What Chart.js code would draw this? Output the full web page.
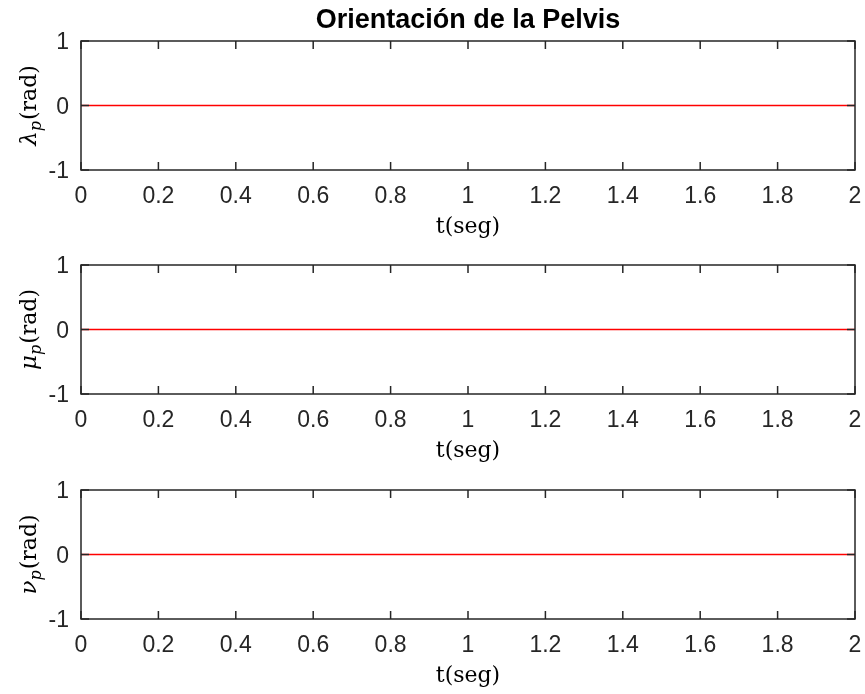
<!DOCTYPE html>
<html><head><meta charset="utf-8">
<script src="https://cdn.jsdelivr.net/npm/chart.js@4.4.1/dist/chart.umd.min.js"></script>
<style>
html,body{margin:0;padding:0;background:#fff;}
#wrap{position:relative;width:865px;height:694px;overflow:hidden;background:#fff;}
canvas{position:absolute;left:0;}
</style></head><body>
<div id="wrap">
<canvas id="c1" width="865" height="244" style="top:0px"></canvas>
<canvas id="c2" width="865" height="244" style="top:225px"></canvas>
<canvas id="c3" width="865" height="244" style="top:450px"></canvas>
</div>
<script>
// ---- data ----
const titleText = 'Orientación de la Pelvis';
const xAxisTitle = 't(seg)';
const timeValues = [0, 0.5, 1, 1.5, 2];
const lambdaP = [0, 0, 0, 0, 0];
const muP = [0, 0, 0, 0, 0];
const nuP = [0, 0, 0, 0, 0];
const xTickValues = [0, 0.2, 0.4, 0.6, 0.8, 1, 1.2, 1.4, 1.6, 1.8, 2];
const xTickLabels = ['0', '0.2', '0.4', '0.6', '0.8', '1', '1.2', '1.4', '1.6', '1.8', '2'];
const yTickValues = [-1, 0, 1];
const yTickLabels = ['-1', '0', '1'];
const panelSymbols = ['λ', 'μ', 'ν'];
const panelSubscript = 'p';
const panelUnit = '(rad)';

const axisColor = '#262626';
const tickFont = {family: "'Liberation Sans', Arial, Helvetica, sans-serif", size: 23};
const serif = "'DejaVu Serif', 'Liberation Serif', serif";

const framePlugin = {
  id: 'frame',
  afterDatasetsDraw(chart, args, opts) {
    const {ctx, chartArea: a, scales} = chart;
    const xs = scales.x, ys = scales.y;
    ctx.save();
    ctx.strokeStyle = axisColor;
    ctx.lineWidth = 1.5;
    ctx.strokeRect(a.left, a.top, a.right - a.left, a.bottom - a.top);
    ctx.beginPath();
    const L = 8;
    xs.ticks.forEach(t => {
      const px = xs.getPixelForValue(t.value);
      ctx.moveTo(px, a.bottom); ctx.lineTo(px, a.bottom - L);
      ctx.moveTo(px, a.top); ctx.lineTo(px, a.top + L);
    });
    ys.ticks.forEach(t => {
      const py = ys.getPixelForValue(t.value);
      ctx.moveTo(a.left, py); ctx.lineTo(a.left + L, py);
      ctx.moveTo(a.right, py); ctx.lineTo(a.right - L, py);
    });
    ctx.stroke();
    ctx.restore();
  },
  afterDraw(chart, args, opts) {
    const {ctx, chartArea: a} = chart;
    const cx = (a.left + a.right) / 2;
    ctx.save();
    ctx.fillStyle = '#000';
    // x axis title
    ctx.font = "22px " + serif;
    ctx.textAlign = 'center';
    ctx.textBaseline = 'alphabetic';
    ctx.fillText(xAxisTitle, cx, a.bottom + 63);
    // main title
    if (opts.showTitle) {
      ctx.font = "bold 27px 'Liberation Sans', Arial, Helvetica, sans-serif";
      ctx.fillText(titleText, cx, 28);
    }
    // y axis title: symbol_p(rad)
    const cy = (a.top + a.bottom) / 2;
    const fSym = "italic 23px " + serif;
    const fSub = "italic 16px " + serif;
    const fUnit = "22px " + serif;
    ctx.font = fSym; const w1 = ctx.measureText(opts.symbol).width;
    ctx.font = fSub; const w2 = ctx.measureText(panelSubscript).width;
    ctx.font = fUnit; const w3 = ctx.measureText(panelUnit).width;
    const total = w1 + w2 + 1 + w3;
    ctx.translate(29, cy);
    ctx.rotate(-Math.PI / 2);
    ctx.textAlign = 'left';
    let x0 = -total / 2;
    const base = 7;
    ctx.font = fSym; ctx.fillText(opts.symbol, x0, base); x0 += w1;
    ctx.font = fSub; ctx.fillText(panelSubscript, x0, base + 5); x0 += w2 + 1;
    ctx.font = fUnit; ctx.fillText(panelUnit, x0, base);
    ctx.restore();
  }
};

function makeChart(id, values, symbol, topPad, showTitle) {
  const canvas = document.getElementById(id);
  const H = canvas.height;
  const plotH = 129;
  const xAxisH = H - topPad - plotH;
  return new Chart(canvas, {
    type: 'line',
    data: {
      datasets: [{
        data: timeValues.map((t, i) => ({x: t, y: values[i]})),
        borderColor: '#ff0000',
        borderWidth: 1.5,
        pointRadius: 0,
        tension: 0,
        fill: false
      }]
    },
    options: {
      responsive: false,
      animation: false,
      devicePixelRatio: 1,
      layout: {padding: {top: topPad, right: 10, left: 0, bottom: 0}},
      plugins: {
        legend: {display: false},
        tooltip: {enabled: false},
        title: {display: false},
        frame: {symbol: symbol, showTitle: showTitle}
      },
      scales: {
        x: {
          type: 'linear', min: 0, max: 2,
          afterBuildTicks: s => { s.ticks = xTickValues.map(v => ({value: v})); },
          afterFit: s => { s.height = xAxisH; s.paddingLeft = 0; s.paddingRight = 0; },
          ticks: {
            callback: v => xTickLabels[xTickValues.findIndex(t => Math.abs(t - v) < 1e-9)],
            font: tickFont, color: axisColor, padding: 13,
            maxRotation: 0, autoSkip: false
          },
          grid: {display: false, drawTicks: false},
          border: {display: false}
        },
        y: {
          type: 'linear', min: -1, max: 1,
          afterBuildTicks: s => { s.ticks = yTickValues.map(v => ({value: v})); },
          afterFit: s => { s.width = 81; s.paddingTop = 0; s.paddingBottom = 0; },
          ticks: {
            callback: v => yTickLabels[yTickValues.findIndex(t => Math.abs(t - v) < 1e-9)],
            font: tickFont, color: axisColor, padding: 12, autoSkip: false, labelOffset: 2
          },
          grid: {display: false, drawTicks: false},
          border: {display: false}
        }
      }
    },
    plugins: [framePlugin]
  });
}

makeChart('c1', lambdaP, panelSymbols[0], 41, true);
makeChart('c2', muP, panelSymbols[1], 40, false);
makeChart('c3', nuP, panelSymbols[2], 40, false);
</script>
</body></html>
